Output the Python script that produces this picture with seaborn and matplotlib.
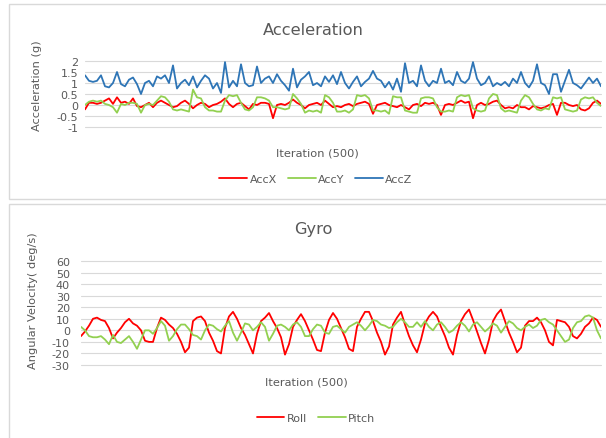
import numpy as np
import pandas as pd
import matplotlib
matplotlib.use("Agg")
import matplotlib.pyplot as plt
import seaborn as sns
from matplotlib.patches import Rectangle

# values, one every ~4 px of the plot width (500 iterations)
acc_x = [-0.2, 0.1, 0.1, 0.05, 0.1, 0.2, 0.3, 0.05, 0.35, 0.1, 0.15, 0.05, 0.3, -0.05,
         -0.1, 0.0, 0.1, -0.1, 0.1, 0.2, 0.1, 0.0, -0.1, -0.05, 0.1, 0.2, 0.05, -0.15,
         0.0, 0.1, 0.05, -0.1, 0.0, 0.05, 0.15, 0.3, 0.05, -0.1, 0.05, 0.1, -0.05, -0.2,
         0.05, 0.0, 0.1, 0.1, 0.05, -0.6, 0.0, 0.05, 0.0, 0.1, 0.25, 0.1, 0.0, -0.15,
         0.0, 0.05, 0.1, 0.0, 0.2, 0.05, -0.1, -0.05, -0.1, 0.0, 0.05, -0.05, 0.05, 0.1,
         0.15, 0.05, -0.4, 0.0, 0.05, 0.1, 0.0, -0.05, -0.1, 0.0, -0.1, -0.2, 0.0, 0.05,
         -0.05, 0.1,
         0.05, 0.1, 0.0, -0.45, 0.0, 0.05, 0.0, 0.1, 0.2, 0.1, 0.15, -0.6, 0.0, 0.1,
         0.0, 0.05, 0.15, 0.2, 0.0, -0.15, -0.1, -0.15, 0.0, -0.1, -0.1, -0.2, -0.05,
         -0.1, -0.15, -0.1, 0.0, 0.05, -0.45, 0.1, 0.1, 0.0, -0.05, 0.0, -0.2, -0.25,
         -0.15, 0.1, 0.2, 0.05]
acc_y = [0.0, 0.15, 0.2, 0.15, 0.2, 0.05, 0.0, -0.1, -0.35, 0.05, 0.0, 0.1, 0.1, 0.05,
         -0.35, 0.0, 0.05, 0.0, 0.2, 0.4, 0.35, 0.15, -0.2, -0.25, -0.2, -0.25, -0.3,
         0.7, 0.35, 0.3, -0.1, -0.25, -0.25, -0.3, -0.3, 0.2, 0.45, 0.4, 0.45, 0.1,
         -0.2, -0.25,
         -0.1, 0.35, 0.35, 0.3, 0.2, -0.1, -0.1, -0.15, -0.2, -0.15, 0.5, 0.3, 0.05,
         -0.35, -0.25, -0.3, -0.25, -0.35, 0.45, 0.35, 0.1, -0.3, -0.3, -0.25, -0.35,
         -0.2, 0.45, 0.4, 0.45, 0.3, -0.25, -0.25, -0.3, -0.25, -0.4, 0.4, 0.35, 0.35,
         -0.25, -0.3, -0.35, -0.35, 0.3, 0.35,
         0.35, 0.3, -0.1, -0.3, -0.3, -0.25, -0.3, 0.35, 0.45, 0.4, 0.45, -0.15, -0.25,
         -0.3, -0.25, 0.3, 0.5, 0.45, -0.15, -0.3, -0.25, -0.3, -0.35, 0.2, 0.45, 0.35,
         0.05, -0.2, -0.25, -0.15, -0.2, 0.35, 0.3, 0.35, -0.2, -0.25, -0.3, -0.25,
         0.25, 0.35, 0.3, 0.35, 0.1, -0.05]
acc_z = [1.35, 1.1, 1.05, 1.1, 1.35, 0.85, 0.8, 1.0, 1.5, 0.95, 0.85, 1.15, 1.25, 0.95,
         0.5, 1.0, 1.1, 0.85, 1.3, 1.2, 1.35, 1.0, 1.8, 0.75, 1.0, 1.15, 0.9, 1.3, 0.8,
         1.1, 1.35, 1.2, 0.75, 1.0, 0.55, 1.95, 0.8, 1.1, 0.85, 1.85, 1.0, 0.85,
         0.9, 1.75, 1.0, 1.2, 1.3, 1.0, 1.4, 1.1, 0.9, 0.65, 1.65, 0.8, 1.15, 1.3, 1.5,
         0.9, 1.0, 0.85, 1.3, 1.05, 1.35, 0.95, 1.5, 1.0, 0.75, 1.05, 1.3, 0.85, 1.05,
         1.2, 1.55, 1.2, 1.1, 0.8, 1.05, 0.7, 1.2, 0.6, 1.9, 1.0, 1.1, 0.85, 1.8, 1.1,
         0.85, 1.1, 1.0, 1.65, 1.0, 1.1, 0.9, 1.5, 1.1, 1.0, 1.2, 1.95, 1.2, 0.9, 1.0,
         1.3, 0.85, 1.0, 0.9, 1.05, 0.85, 1.2, 1.0, 1.5, 1.0, 0.8, 1.1, 1.85, 1.0, 0.9,
         0.5, 1.4, 1.4, 0.6, 1.1, 1.6, 1.0, 0.9, 0.75, 1.0, 1.25, 1.0, 1.2, 0.85]

roll = [-5, -1, 4, 10, 11, 9, 8, 2, -7, -2, 2, 7, 10, 6, 4, 0, -9, -10, -10, 2, 11, 9,
        5, 2, -3, -10, -19, -15, 8, 11, 12, 8, -2, -9, -18, -20, 2, 12, 16, 10, 2, -4,
        -12, -20, -3, 8, 11, 15, 8, 2, -6, -21, -12, 3, 9, 14, 8, 0, -8, -17, -18, -2,
        9, 15, 10, 2, -6, -16, -18, 3, 10, 16, 16, 8, -2, -10, -21, -14, 5, 11, 16, 5,
        -5, -13, -19, -8, 6, 12, 16, 12, 3, -5, -15, -21, -4, 8, 14, 18, 9, -1, -11,
        -20, -8, 8, 14, 18, 8, -2, -10, -19, -15, 4, 8, 8, 11, 7, 0, -10, -13, 9, 8, 7,
        3, -5, -7, -3, 3, 6, 11, 9, 3]
pitch = [3, 0, -5, -6, -6, -5, -8, -12, -4, -10, -11, -8, -5, -10, -16, -8, 0, 0, -3,
         2, 8, 4, -9, -5, 1, 5, 5, 1, -4, -5, -8, 0, 5, 4, 1, -1, 4, 8, -2, -9, -2, 6,
         5, 0, 3, 7, 3, -9, -3, 4, 5, 3, 0, 5, 7, 3, -5, -5, 1, 5, 4, -2, -3, 3, 4, 1,
         -2, 3, 5, 7, 4, 0, 4, 9, 8, 5, 4, 2, 3, 7, 10, 7, 3, 3, 7, 3, 8, 3, 0, 5, 7, 3,
         -2, 0, 4, 7, 4, -1, 5, 7, 3, -1, 2, 6, 4, -2, 3, 8, 6, 2, 0, 3, 5, 2, 4, 9, 10,
         7, 5, 0, -5, -10, -8, 2, 7, 8, 12, 13, 11, 0, -7]

acc_names = ["AccX", "AccY", "AccZ"]
acc_colors = ["#FF0000", "#92D050", "#2E75B6"]
gyro_names = ["Roll", "Pitch"]
gyro_colors = ["#FF0000", "#92D050"]

acc_ticks = [-1, -0.5, 0, 0.5, 1, 1.5, 2]
acc_tick_labels = ["-1", "-0.5", "0", "0.5", "1", "1.5", "2"]
gyro_ticks = [-30, -20, -10, 0, 10, 20, 30, 40, 50, 60]

sns.set_style("white")
plt.rcParams["font.family"] = ["DejaVu Sans"]
plt.rcParams["axes.unicode_minus"] = False

TXT = "#595959"
GRID = "#D9D9D9"
W, H = 606, 439


def fx(px):
    return px / W


def fy(py):
    return 1 - py / H


def long_form(names, series):
    frames = []
    for name, vals in zip(names, series):
        frames.append(pd.DataFrame({"Iteration": np.linspace(1, 500, len(vals)),
                                    "value": vals, "series": name}))
    return pd.concat(frames, ignore_index=True)


def style_axis(ax, ticks, labels, lo, hi, pad):
    ax.set_ylim(lo, hi)
    ax.set_xlim(1, 500)
    ax.set_yticks(ticks)
    ax.set_yticklabels(labels)
    ax.set_xticks([])
    ax.set_xlabel("")
    ax.set_ylabel("")
    ax.tick_params(axis="y", length=0, pad=pad, labelsize=8, labelcolor=TXT)
    ax.yaxis.grid(True, color=GRID, lw=0.8)
    ax.set_axisbelow(True)
    for gl in ax.get_ygridlines():
        gl.set_clip_on(False)
    for s in ax.spines.values():
        s.set_visible(False)


fig = plt.figure(figsize=(W / 100, H / 100), dpi=100)

# the two chart frames
for top, bottom in [(5, 200), (205, 450)]:
    fig.add_artist(Rectangle((fx(9), fy(bottom)), fx(620 - 9), fy(top) - fy(bottom),
                             transform=fig.transFigure, facecolor="white",
                             edgecolor=GRID, lw=1, zorder=-1))

# Acceleration
ax1 = fig.add_axes([fx(85), fy(128), fx(601 - 85), fy(62) - fy(128)])
acc_df = long_form(acc_names, [acc_x, acc_y, acc_z])
sns.lineplot(data=acc_df, x="Iteration", y="value", hue="series", hue_order=acc_names,
             palette=acc_colors, estimator=None, lw=1.3, ax=ax1, legend=False)
style_axis(ax1, acc_ticks, acc_tick_labels, -1, 2, 5)

# Gyro
ax2 = fig.add_axes([fx(81), fy(366), fx(601 - 81), fy(262) - fy(366)])
gyro_df = long_form(gyro_names, [roll, pitch])
sns.lineplot(data=gyro_df, x="Iteration", y="value", hue="series", hue_order=gyro_names,
             palette=gyro_colors, estimator=None, lw=1.3, ax=ax2, legend=False)
style_axis(ax2, gyro_ticks, [str(t) for t in gyro_ticks], -30, 60, 8)

# titles and axis labels
fig.text(fx(313), fy(35), "Acceleration", ha="center", va="baseline", fontsize=11.7, color=TXT)
fig.text(fx(317), fy(157), "Iteration (500)", ha="center", va="baseline", fontsize=8.2, color=TXT)
fig.text(fx(37), fy(86), "Acceleration (g)", rotation=90, ha="center", va="center",
         fontsize=8.2, color=TXT)
fig.text(fx(313), fy(234), "Gyro", ha="center", va="baseline", fontsize=11.7, color=TXT)
fig.text(fx(306), fy(386), "Iteration (500)", ha="center", va="baseline", fontsize=8.2, color=TXT)
fig.text(fx(33), fy(301), "Angular Velocity( deg/s)", rotation=90, ha="center", va="center",
         fontsize=8.2, color=TXT)

# legends
fig.legend(handles=ax1.lines[:3], labels=acc_names, loc="center",
           bbox_to_anchor=(fx(316), fy(180)), ncol=3, frameon=False, fontsize=8,
           labelcolor=TXT, handlelength=2.5, handletextpad=0.2, columnspacing=1.0)
fig.legend(handles=ax2.lines[:2], labels=gyro_names, loc="center",
           bbox_to_anchor=(fx(316), fy(419)), ncol=2, frameon=False, fontsize=8,
           labelcolor=TXT, handlelength=2.5, handletextpad=0.2, columnspacing=1.0)

fig.savefig("out.png", dpi=100)
